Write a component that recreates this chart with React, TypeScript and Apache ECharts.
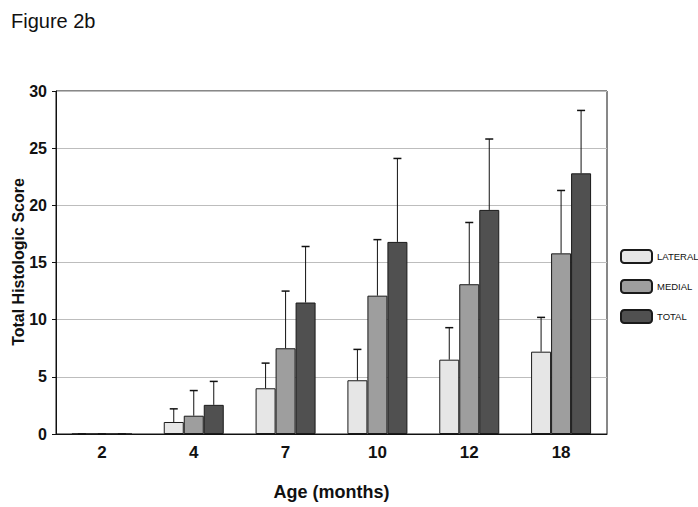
import React, { useEffect, useRef } from "react";
import * as echarts from "echarts";

const ages = ["2", "4", "7", "10", "12", "18"];
const seriesNames = ["LATERAL", "MEDIAL", "TOTAL"];
const lateral = [0, 1.05, 4.0, 4.7, 6.5, 7.2];
const lateralErr = [0, 2.2, 6.2, 7.4, 9.3, 10.2];
const medial = [0, 1.6, 7.5, 12.1, 13.1, 15.8];
const medialErr = [0, 3.8, 12.5, 17.0, 18.5, 21.3];
const total = [0, 2.55, 11.5, 16.8, 19.6, 22.8];
const totalErr = [0, 4.6, 16.4, 24.1, 25.8, 28.3];
const yTicks = [0, 5, 10, 15, 20, 25, 30];
const yTitle = "Total Histologic Score";

const FONT = "'Liberation Sans', Arial, Helvetica, sans-serif";
const BAR_W = 20;

export default function App() {
  const ref = useRef<HTMLDivElement>(null);
  useEffect(() => {
    if (!ref.current) return;
    document.body.style.margin = "0";
    document.body.style.overflow = "hidden";
    const chart = echarts.init(ref.current, null, { renderer: "svg" });
    const colors = ["#e6e6e6", "#9e9e9e", "#505050"];
    const values = [lateral, medial, total];
    const errs = [lateralErr, medialErr, totalErr];
    const offsets = [-BAR_W, 0, BAR_W];

    const barSeries = seriesNames.map((name, i) => ({
      name,
      type: "bar",
      data: values[i],
      barWidth: BAR_W,
      barGap: "0%",
      itemStyle: { color: colors[i], borderColor: "#1a1a1a", borderWidth: 1 },
      z: 2,
    }));

    const errSeries = seriesNames.map((name, i) => ({
      name: name + "_err",
      type: "custom",
      data: values[i].map((v, k) => [k, v, errs[i][k]]),
      z: 3,
      renderItem: (params: any, api: any) => {
        const idx = api.value(0);
        const base = api.coord([idx, api.value(1)]);
        const top = api.coord([idx, api.value(2)]);
        const x = base[0] + offsets[i];
        const cap = 4;
        return {
          type: "group",
          children: [
            {
              type: "line",
              shape: { x1: x, y1: base[1], x2: x, y2: top[1] },
              style: { stroke: "#111", lineWidth: 1 },
            },
            {
              type: "line",
              shape: { x1: x - cap, y1: top[1], x2: x + cap, y2: top[1] },
              style: { stroke: "#111", lineWidth: 1.5 },
            },
          ],
        };
      },
    }));

    chart.setOption({
      animation: false,
      backgroundColor: "#ffffff",
      title: {
        text: "Figure 2b",
        left: 6,
        top: 6,
        textStyle: { fontFamily: FONT, fontSize: 20, fontWeight: "normal", color: "#111" },
      },
      legend: {
        data: seriesNames,
        orient: "vertical",
        left: 615,
        top: 244,
        itemWidth: 31,
        itemHeight: 13,
        itemGap: 15,
        textStyle: { fontFamily: FONT, fontSize: 9.5, color: "#111" },
      },
      graphic: [
        {
          type: "text",
          x: 18,
          y: 262,
          rotation: Math.PI / 2,
          style: {
            text: yTitle,
            fontFamily: FONT,
            fontSize: 16,
            fontWeight: "bold",
            fill: "#111",
            align: "center",
            verticalAlign: "middle",
          },
        },
      ],
      grid: {
        left: 56,
        right: 91,
        top: 91,
        bottom: 73,
        containLabel: false,
        outerBoundsMode: "none",
        show: true,
        borderColor: "#111",
        borderWidth: 1,
      },
      xAxis: {
        type: "category",
        data: ages,
        name: "Age (months)",
        nameLocation: "middle",
        nameGap: 49,
        nameTextStyle: { fontFamily: FONT, fontSize: 18, fontWeight: "bold", color: "#111" },
        axisLine: { lineStyle: { color: "#111" } },
        axisTick: { show: false },
        axisLabel: {
          fontFamily: FONT,
          fontSize: 17,
          fontWeight: "bold",
          color: "#111",
          margin: 10,
        },
      },
      yAxis: {
        type: "value",
        min: yTicks[0],
        max: yTicks[yTicks.length - 1],
        interval: 5,
        axisLine: { show: true, lineStyle: { color: "#111" } },
        axisTick: { show: true, length: 4, lineStyle: { color: "#111" } },
        axisLabel: {
          fontFamily: FONT,
          fontSize: 16,
          fontWeight: "bold",
          color: "#111",
          margin: 9,
        },
        splitLine: { show: true, lineStyle: { color: "#bdbdbd", width: 1 } },
      },
      series: [...barSeries, ...errSeries],
    });
    return () => chart.dispose();
  }, []);
  return (
    <div
      ref={ref}
      style={{ position: "fixed", left: 0, top: 0, width: 698, height: 507 }}
    />
  );
}
